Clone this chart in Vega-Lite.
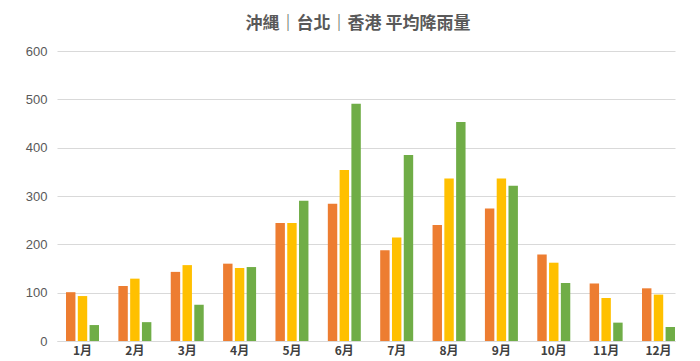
{
  "$schema": "https://vega.github.io/schema/vega-lite/v6.json",
  "autosize": "none",
  "width": 618,
  "height": 290,
  "padding": {"left": 57, "top": 51, "right": 25, "bottom": 20},
  "background": "white",
  "title": {
    "text": "沖縄｜台北｜香港 平均降雨量",
    "font": "Noto Sans CJK TC",
    "fontSize": 17,
    "fontWeight": "bold",
    "color": "#595959",
    "anchor": "middle",
    "dx": -8,
    "offset": 12
  },
  "config": {
    "view": {"stroke": null},
    "font": "Liberation Sans"
  },
  "data": {
    "values": [
      {"month": "1月", "city": "沖縄", "rain": 101},
      {"month": "1月", "city": "台北", "rain": 93},
      {"month": "1月", "city": "香港", "rain": 33},
      {"month": "2月", "city": "沖縄", "rain": 114},
      {"month": "2月", "city": "台北", "rain": 129},
      {"month": "2月", "city": "香港", "rain": 39},
      {"month": "3月", "city": "沖縄", "rain": 143},
      {"month": "3月", "city": "台北", "rain": 157},
      {"month": "3月", "city": "香港", "rain": 75},
      {"month": "4月", "city": "沖縄", "rain": 160},
      {"month": "4月", "city": "台北", "rain": 151},
      {"month": "4月", "city": "香港", "rain": 153},
      {"month": "5月", "city": "沖縄", "rain": 244},
      {"month": "5月", "city": "台北", "rain": 244},
      {"month": "5月", "city": "香港", "rain": 290},
      {"month": "6月", "city": "沖縄", "rain": 284},
      {"month": "6月", "city": "台北", "rain": 354},
      {"month": "6月", "city": "香港", "rain": 491},
      {"month": "7月", "city": "沖縄", "rain": 188},
      {"month": "7月", "city": "台北", "rain": 214},
      {"month": "7月", "city": "香港", "rain": 385},
      {"month": "8月", "city": "沖縄", "rain": 240},
      {"month": "8月", "city": "台北", "rain": 336},
      {"month": "8月", "city": "香港", "rain": 453},
      {"month": "9月", "city": "沖縄", "rain": 274},
      {"month": "9月", "city": "台北", "rain": 336},
      {"month": "9月", "city": "香港", "rain": 321},
      {"month": "10月", "city": "沖縄", "rain": 179},
      {"month": "10月", "city": "台北", "rain": 162},
      {"month": "10月", "city": "香港", "rain": 120},
      {"month": "11月", "city": "沖縄", "rain": 119},
      {"month": "11月", "city": "台北", "rain": 89},
      {"month": "11月", "city": "香港", "rain": 38},
      {"month": "12月", "city": "沖縄", "rain": 109},
      {"month": "12月", "city": "台北", "rain": 96},
      {"month": "12月", "city": "香港", "rain": 29}
    ]
  },
  "mark": {"type": "bar"},
  "encoding": {
    "x": {
      "field": "month",
      "type": "nominal",
      "sort": ["1月","2月","3月","4月","5月","6月","7月","8月","9月","10月","11月","12月"],
      "scale": {"paddingInner": 0.37, "paddingOuter": 0.086, "align": 1},
      "axis": {
        "title": null,
        "labelAngle": 0,
        "ticks": false,
        "domain": true,
        "domainColor": "#d9d9d9",
        "labelFont": "Noto Sans CJK TC",
        "labelFontSize": 12,
        "labelFontWeight": "bold",
        "labelColor": "#404040",
        "labelPadding": 4,
        "grid": false
      }
    },
    "xOffset": {
      "field": "city",
      "type": "nominal",
      "sort": ["沖縄", "台北", "香港"],
      "scale": {"paddingInner": 0.2}
    },
    "y": {
      "field": "rain",
      "type": "quantitative",
      "scale": {"domain": [0, 600], "nice": false},
      "axis": {
        "title": null,
        "values": [0, 100, 200, 300, 400, 500, 600],
        "domain": false,
        "ticks": false,
        "labelPadding": 10,
        "labelFontSize": 13,
        "labelColor": "#595959",
        "gridColor": "#d9d9d9",
        "gridWidth": 1
      }
    },
    "color": {
      "field": "city",
      "type": "nominal",
      "sort": ["沖縄", "台北", "香港"],
      "scale": {"domain": ["沖縄", "台北", "香港"], "range": ["#ED7D31", "#FFC000", "#70AD47"]},
      "legend": null
    }
  }
}
